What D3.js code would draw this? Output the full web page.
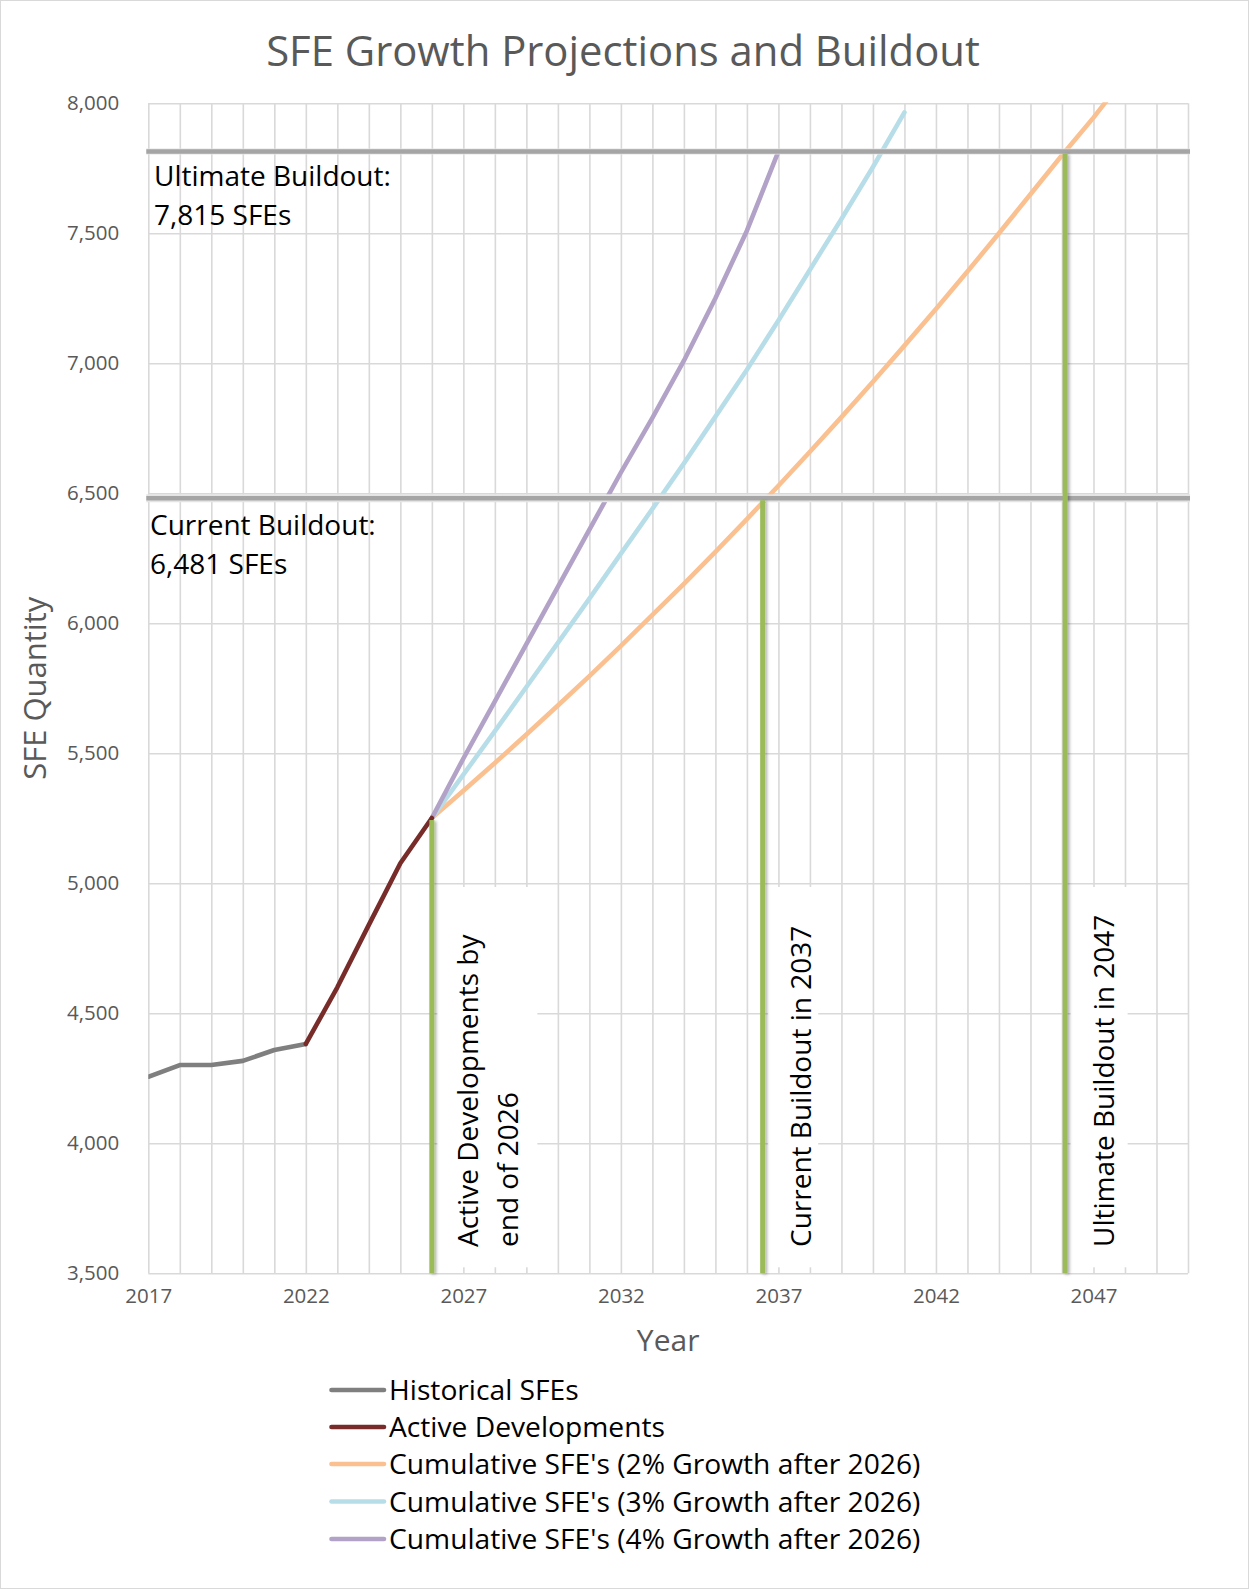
<!DOCTYPE html>
<html><head><meta charset="utf-8">
<script src="https://cdn.jsdelivr.net/npm/d3@7"></script>
<style>
body{margin:0;background:#fff}
svg{display:block}
text{font-family:'Open Sans',sans-serif}
</style>
</head><body>
<svg id="chart" width="1249" height="1589"></svg>
<script>
// ---------- data ----------
const histYears   = [2017, 2018, 2019, 2020, 2021, 2022];
const histValues  = [4256, 4301, 4301, 4317, 4359, 4382];

const activeYears  = [2022, 2023, 2024, 2025, 2026];
const activeValues = [4382, 4600, 4840, 5077, 5251];

const g2Years  = [2026,2027,2028,2029,2030,2031,2032,2033,2034,2035,2036,2037,2038,2039,2040,2041,2042,2043,2044,2045,2046,2047,2048];
const g2Values = [5251,5356,5463,5572,5684,5797,5913,6032,6152,6275,6401,6529,6660,6793,6929,7068,7209,7353,7500,7650,7800,7945,8100];

const g3Years  = [2026,2027,2028,2029,2030,2031,2032,2033,2034,2035,2036,2037,2038,2039,2040,2041];
const g3Values = [5251,5418,5585,5755,5925,6095,6268,6440,6615,6795,6975,7165,7360,7555,7755,7965];

const g4Years  = [2026,2027,2028,2029,2030,2031,2032,2033,2034,2035,2036,2037];
const g4Values = [5251,5480,5700,5920,6140,6360,6580,6790,7010,7250,7510,7815];

const buildoutValues = [6481, 7815];
const buildoutLabels = [["Current Buildout:", "6,481 SFEs"], ["Ultimate Buildout:", "7,815 SFEs"]];

const milestoneYears  = [2026, 2036.5, 2046.1];
const milestoneTops   = [5251, 6481, 7815];
const milestoneLabels = [["Active Developments by", "end of 2026"], ["Current Buildout in 2037"], ["Ultimate Buildout in 2047"]];

const yTicks = [3500, 4000, 4500, 5000, 5500, 6000, 6500, 7000, 7500, 8000];
const xLabelTicks = [2017, 2022, 2027, 2032, 2037, 2042, 2047];
const xGridTicks = d3.range(2017, 2051);

const legendNames = ["Historical SFEs", "Active Developments",
  "Cumulative SFE's (2% Growth after 2026)",
  "Cumulative SFE's (3% Growth after 2026)",
  "Cumulative SFE's (4% Growth after 2026)"];
const seriesColors = ["#7f7f7f", "#772c2a", "#fac090", "#b7dee8", "#b3a2c7"];

const titleText = "SFE Growth Projections and Buildout";
const xTitle = "Year";
const yTitle = "SFE Quantity";

// ---------- layout ----------
const W = 1249, H = 1589;
const L = 148.3, R = 1188, T = 103.3, B = 1273.3;
const svg = d3.select("#chart");

const x = d3.scaleLinear().domain([2017, 2050]).range([L, R]);
const y = d3.scaleLinear().domain([3500, 8000]).range([B, T]);

const defs = svg.append("defs");
defs.append("clipPath").attr("id", "plotclip")
  .append("rect").attr("x", L).attr("y", T - 1).attr("width", R - L + 4).attr("height", B - T + 1);
const sh = defs.append("filter").attr("id", "shadow").attr("filterUnits", "userSpaceOnUse")
  .attr("x", 0).attr("y", 0).attr("width", W).attr("height", H);
sh.append("feDropShadow").attr("dx", 2).attr("dy", 1).attr("stdDeviation", 1.6)
  .attr("flood-color", "#000").attr("flood-opacity", 0.3);

// outer border
svg.append("rect").attr("x", 0.5).attr("y", 0.5).attr("width", W - 1).attr("height", H - 1)
  .attr("fill", "#fff").attr("stroke", "#d9d9d9").attr("stroke-width", 1);

// title
svg.append("text").attr("x", 623).attr("y", 66).attr("text-anchor", "middle")
  .attr("font-size", 41.8).attr("fill", "#595959").text(titleText);

// gridlines (horizontal)
const gy = svg.append("g").attr("transform", `translate(${L},0)`)
  .call(d3.axisLeft(y).tickValues(yTicks).tickSize(-(R - L)).tickFormat(""));
gy.select(".domain").remove();
gy.selectAll("line").attr("stroke", "#d9d9d9").attr("stroke-width", 1.6);

// gridlines (vertical)
const gx = svg.append("g").attr("transform", `translate(0,${B})`)
  .call(d3.axisBottom(x).tickValues(xGridTicks).tickSize(-(B - T)).tickFormat(""));
gx.select(".domain").remove();
gx.selectAll("line").attr("stroke", "#d9d9d9").attr("stroke-width", 1.6);

// y tick labels
const ay = svg.append("g").attr("transform", `translate(${L},0)`)
  .call(d3.axisLeft(y).tickValues(yTicks).tickSize(0).tickPadding(29).tickFormat(d3.format(",")));
ay.select(".domain").remove();
ay.selectAll("text").attr("font-size", 20.5).attr("fill", "#595959").attr("font-family", "'Open Sans',sans-serif");

// x tick labels
const ax = svg.append("g").attr("transform", `translate(0,${B})`)
  .call(d3.axisBottom(x).tickValues(xLabelTicks).tickSize(0).tickPadding(15).tickFormat(d3.format("d")));
ax.select(".domain").remove();
ax.selectAll("text").attr("font-size", 20.5).attr("fill", "#595959").attr("font-family", "'Open Sans',sans-serif");

// axis titles
svg.append("text").attr("x", (L + R) / 2).attr("y", 1351).attr("text-anchor", "middle")
  .attr("font-size", 30).attr("fill", "#595959").text(xTitle);
svg.append("text").attr("transform", `translate(46,${(T + B) / 2}) rotate(-90)`).attr("text-anchor", "middle")
  .attr("font-size", 31).attr("fill", "#595959").text(yTitle);

// milestone label boxes (white, covering grid)
milestoneLabels.forEach((lines, i) => {
  const gxp = x(milestoneYears[i]);
  const boxW = lines.length === 2 ? 100 : (i === 1 ? 50 : 57);
  svg.append("rect").attr("x", gxp + 5.5).attr("y", 887).attr("width", boxW).attr("height", B - 6 - 887)
    .attr("fill", "#fff");
});

// data lines
const line = d3.line().x(d => x(d[0])).y(d => y(d[1]));
const plot = svg.append("g").attr("clip-path", "url(#plotclip)");
const seriesList = [
  [histYears, histValues], [activeYears, activeValues],
  [g2Years, g2Values], [g3Years, g3Values], [g4Years, g4Values]
];
[2, 3, 4, 0, 1].forEach(i => {
  const [ys, vs] = seriesList[i];
  plot.append("path").datum(ys.map((yr, k) => [yr, vs[k]]))
    .attr("d", line).attr("fill", "none").attr("stroke", seriesColors[i])
    .attr("stroke-width", 4.6).attr("stroke-linejoin", "round").attr("stroke-linecap", "round");
});

// buildout horizontal lines
buildoutValues.forEach((v, i) => {
  svg.append("line").attr("x1", x(2017) - 2).attr("x2", x(2050) + 2)
    .attr("y1", y(v)).attr("y2", y(v)).attr("stroke", "#e4e4e4").attr("stroke-width", i === 0 ? 8 : 6);
  svg.append("line").attr("x1", x(2017) - 2).attr("x2", x(2050) + 2)
    .attr("y1", y(v)).attr("y2", y(v)).attr("stroke", "#a5a5a5").attr("stroke-width", 4.5);
});

// milestone green verticals (drawn over the buildout lines)
milestoneYears.forEach((yr, i) => {
  const top = y(milestoneTops[i]) + 2;
  svg.append("rect").attr("x", x(yr) - 2.5).attr("width", 5)
    .attr("y", top).attr("height", y(3500) - top)
    .attr("fill", "#9bbb59").attr("filter", "url(#shadow)");
});

// buildout labels
buildoutLabels.forEach((lines, i) => {
  const t = svg.append("text").attr("font-size", 28).attr("fill", "#000");
  lines.forEach((s, k) => {
    t.append("tspan").attr("x", i === 0 ? 150 : 154).attr("y", y(buildoutValues[i]) + (i === 0 ? 37 : 35) + k * 38.5).text(s);
  });
});

// milestone labels (rotated)
milestoneLabels.forEach((lines, i) => {
  const gxp = x(milestoneYears[i]);
  lines.forEach((s, k) => {
    const bx = gxp + (lines.length === 2 ? 46 + k * 40 : 48.5);
    svg.append("text").attr("transform", `translate(${bx},1247) rotate(-90)`)
      .attr("font-size", 28).attr("fill", "#000").text(s);
  });
});

// legend
const legendY = [1390, 1427, 1464, 1501.5, 1539];
legendNames.forEach((name, i) => {
  const g = svg.append("g");
  g.append("line").attr("x1", 331.5).attr("x2", 384).attr("y1", legendY[i]).attr("y2", legendY[i])
    .attr("stroke", seriesColors[i]).attr("stroke-width", 4.6).attr("stroke-linecap", "round");
  g.append("text").attr("x", 389).attr("y", legendY[i]).attr("dy", "0.36em")
    .attr("font-size", 28.2).attr("fill", "#000").text(name);
});
</script>
</body></html>
